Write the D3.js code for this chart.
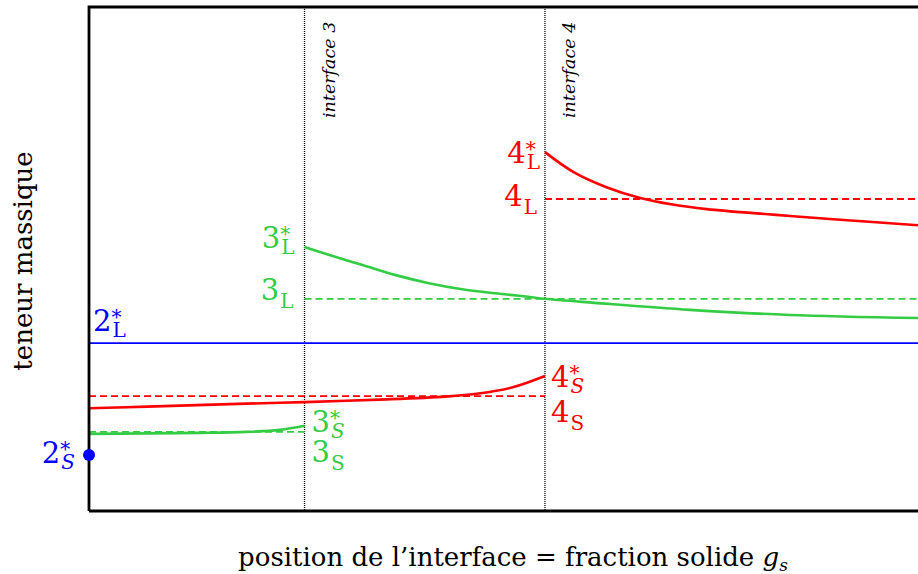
<!DOCTYPE html>
<html>
<head>
<meta charset="utf-8">
<script src="https://cdn.jsdelivr.net/npm/d3@7"></script>
<style>
  body { margin: 0; background: #fff; }
  text { font-family: "DejaVu Serif", serif; }
</style>
</head>
<body>
<svg width="918" height="574"></svg>
<script>
// interface positions (fraction solide)
const interfaces = [0.26, 0.55];
const interfaceNames = ["interface 3", "interface 4"];

// constant levels (teneur massique, arbitrary units 0-100)
const level2L = 33.3;
const level2S = 11.1;
const level3L = 42.1;
const level3S = 15.7;
const level4L = 61.9;
const level4S = 22.8;

// curves: [gs, teneur]
const curve3L = [[0.26, 52.4], [0.29, 50.8], [0.33, 48.8], [0.37, 46.8], [0.41, 45.2], [0.45, 44.0],
  [0.49, 43.2], [0.53, 42.5], [0.55, 42.1], [0.61, 41.3], [0.725, 39.9], [0.845, 38.9], [1.0, 38.3]];
const curve3S = [[0, 15.3], [0.134, 15.5], [0.19, 15.7], [0.23, 16.1], [0.26, 16.9]];
const curve4L = [[0.55, 71.2], [0.584, 67.3], [0.625, 64.2], [0.665, 62.1], [0.704, 60.8],
  [0.745, 59.9], [0.825, 58.8], [0.906, 57.8], [1.0, 56.7]];
const curve4S = [[0, 20.4], [0.07, 20.7], [0.19, 21.3], [0.26, 21.6], [0.35, 22.1], [0.43, 22.7],
  [0.47, 23.3], [0.51, 24.5], [0.55, 26.8]];

const blue = "#0000ff", green = "#33cc44", red = "#ff0000";

const svg = d3.select("svg");
const margin = {top: 7, left: 89, bottom: 63};
const height = +svg.attr("height");
const innerBottom = height - margin.bottom;

const x = d3.scaleLinear().domain([0, 1]).range([margin.left, 918]);
const y = d3.scaleLinear().domain([0, 100]).range([innerBottom, margin.top]);

const line = d3.line().x(d => x(d[0])).y(d => y(d[1])).curve(d3.curveCatmullRom.alpha(0.5));

// interface dotted lines
svg.selectAll(".iface")
  .data(interfaces)
  .enter().append("line")
  .attr("x1", d => x(d)).attr("x2", d => x(d))
  .attr("y1", margin.top).attr("y2", innerBottom)
  .attr("stroke", "#000").attr("stroke-width", 1.3)
  .attr("stroke-dasharray", "1,1");

svg.selectAll(".ifaceLabel")
  .data(interfaces)
  .enter().append("text")
  .attr("transform", d => `translate(${x(d) + 30},118) rotate(-90)`)
  .attr("font-size", 17.5).attr("font-style", "italic")
  .text((d, i) => interfaceNames[i]);

// dashed constant levels
const dashed = [
  {v: level3L, from: interfaces[0], to: 1, c: green},
  {v: level3S, from: 0, to: interfaces[0], c: green},
  {v: level4L, from: interfaces[1], to: 1, c: red},
  {v: level4S, from: 0, to: interfaces[1], c: red}
];
svg.selectAll(".lvl")
  .data(dashed)
  .enter().append("line")
  .attr("x1", d => x(d.from)).attr("x2", d => x(d.to))
  .attr("y1", d => y(d.v)).attr("y2", d => y(d.v))
  .attr("stroke", d => d.c).attr("stroke-width", 1.8)
  .attr("stroke-dasharray", "7,4");

// liquid 2 level
svg.append("line")
  .attr("x1", x(0)).attr("x2", x(1))
  .attr("y1", y(level2L)).attr("y2", y(level2L))
  .attr("stroke", blue).attr("stroke-width", 1.8);

// curves
[[curve3L, green], [curve3S, green], [curve4L, red], [curve4S, red]].forEach(([c, col]) => {
  svg.append("path").datum(c)
    .attr("d", line)
    .attr("fill", "none").attr("stroke", col).attr("stroke-width", 2.6);
});

// frame
svg.append("path")
  .attr("d", `M${x(0)},${innerBottom}V${margin.top}H${930}M${x(0)},${innerBottom}H${930}`)
  .attr("fill", "none").attr("stroke", "#000").attr("stroke-width", 2.8);

// solid 2 point
svg.append("circle")
  .attr("cx", x(0)).attr("cy", y(level2S)).attr("r", 6)
  .attr("fill", blue);

// labels: digit with star superscript and phase subscript
const labels = [
  {n: "2", star: true, sub: "L", gx: 0, v: level2L, dx: 4, dy: -12, anchor: "start", c: blue},
  {n: "2", star: true, sub: "S", gx: 0, v: level2S, dx: -14, dy: 8, anchor: "end", c: blue},
  {n: "3", star: true, sub: "L", gx: interfaces[0], v: curve3L[0][1], dx: -10, dy: 1, anchor: "end", c: green},
  {n: "3", star: false, sub: "L", gx: interfaces[0], v: level3L, dx: -11, dy: 1, anchor: "end", c: green},
  {n: "3", star: true, sub: "S", gx: interfaces[0], v: curve3S[curve3S.length - 1][1], dx: 7, dy: 6, anchor: "start", c: green},
  {n: "3", star: false, sub: "S", gx: interfaces[0], v: level3S, dx: 7, dy: 30, anchor: "start", c: green},
  {n: "4", star: true, sub: "L", gx: interfaces[1], v: curve4L[0][1], dx: -5, dy: 11, anchor: "end", c: red},
  {n: "4", star: false, sub: "L", gx: interfaces[1], v: level4L, dx: -8, dy: 7, anchor: "end", c: red},
  {n: "4", star: true, sub: "S", gx: interfaces[1], v: curve4S[curve4S.length - 1][1], dx: 6, dy: 11, anchor: "start", c: red},
  {n: "4", star: false, sub: "S", gx: interfaces[1], v: level4S, dx: 6, dy: 26, anchor: "start", c: red}
];

labels.forEach(l => {
  const t = svg.append("text").attr("fill", l.c).attr("font-size", 29);
  const digit = t.append("tspan").attr("x", 0).attr("y", 0).text(l.n);
  const w = digit.node().getComputedTextLength();
  if (l.star) {
    t.append("tspan").attr("x", w).attr("y", -7).attr("font-size", 20).text("*");
  }
  t.append("tspan").attr("x", w + 1).attr("y", l.star ? 6 : 8).attr("font-size", 20)
    .attr("font-style", l.star && l.sub === "S" ? "italic" : "normal")
    .text(l.sub);
  const bb = t.node().getBBox();
  const ax = x(l.gx) + l.dx - (l.anchor === "end" ? bb.width : 0);
  t.attr("transform", `translate(${ax},${y(l.v) + l.dy})`);
});

// axis titles
svg.append("text")
  .attr("transform", `translate(32,${(margin.top + innerBottom) / 2 + 2}) rotate(-90)`)
  .attr("text-anchor", "middle").attr("font-size", 26)
  .text("teneur massique");

const xt = svg.append("text")
  .attr("x", 513).attr("y", 566)
  .attr("text-anchor", "middle").attr("font-size", 26);
xt.append("tspan").text("position de l\u2019interface = fraction solide ");
xt.append("tspan").attr("font-style", "italic").text("g");
xt.append("tspan").attr("font-style", "italic").attr("font-size", 17).attr("dy", 5).text("s");
</script>
</body>
</html>
